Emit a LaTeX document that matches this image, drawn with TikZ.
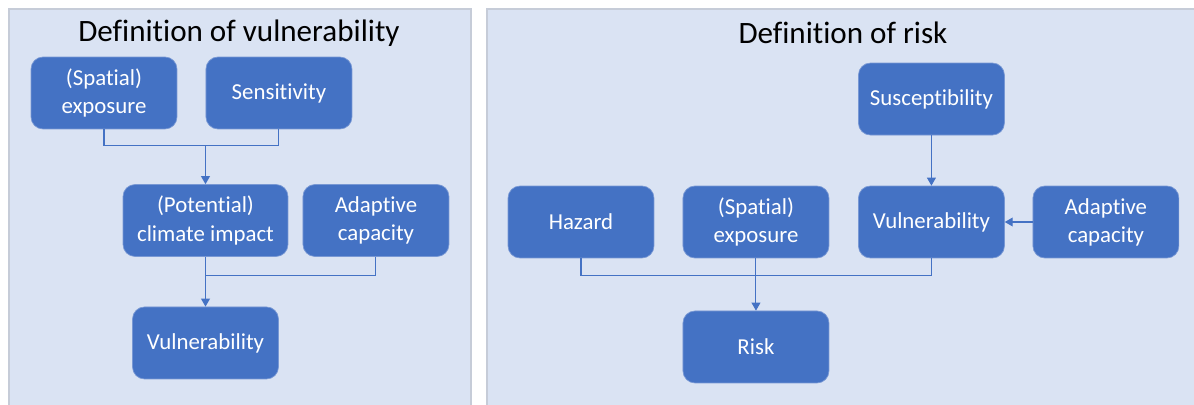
\documentclass[tikz,border=0pt]{standalone}
\usepackage{fontspec}
\setmainfont{Carlito}[Ligatures=NoCommon]
\usepackage{tikz}
\usetikzlibrary{arrows.meta,positioning,calc}
\definecolor{boxblue}{RGB}{68,114,196}
\definecolor{boxline}{RGB}{120,152,212}
\definecolor{panelbg}{RGB}{218,227,243}
\definecolor{panelline}{RGB}{198,204,216}
\newcommand{\boxfont}{\fontsize{13}{16}\selectfont}
\newcommand{\titlefont}{\fontsize{17.7}{21}\selectfont}
\tikzstyle{panel} = [rectangle, draw=panelline, fill=panelbg, line width=0.6pt]
\tikzstyle{box} = [rectangle, draw=boxline, fill=boxblue, text=white, align=center, minimum width=2.92cm, minimum height=1.44cm, rounded corners=0.24cm, inner sep=0pt, font=\boxfont]
\tikzstyle{title} = [font=\titlefont, text=black]
\tikzstyle{wire} = [draw=boxblue, line width=0.6pt]
\tikzstyle{wirearrow} = [wire, -{Triangle[length=4.5pt,width=5pt]}]

\begin{document}
\begin{tikzpicture}[x=0.02cm, y=-0.02cm]
        \useasboundingbox (0,0) rectangle (1194,405);
        \draw[panel] (9,9) rectangle (471,410);
        \draw[panel] (487,9) rectangle (1200,410);

        % vulnerability
        \node[title] (t1) at (239,33) {Definition of vulnerability};
        \node[box] (e1) at (104,93) {(Spatial)\\exposure};
        \node[box, right of=e1, node distance=3.5cm] (s1) {Sensitivity};
        \node[box, minimum width=3.3cm] (c1) at (205.5,220.5) {(Potential)\\climate impact};
        \node[box, right of=c1, node distance=3.41cm] (a1) {Adaptive\\capacity};
        \node[box, below of=c1, node distance=2.45cm] (v1) {Vulnerability};

        \coordinate (j1) at ($(c1.north)+(0,-39)$);
        \coordinate (j2) at ($(c1.south)+(0,19)$);
        \draw[wire] (e1.south) |- (j1) -| (s1.south);
        \draw[wirearrow] (j1) -- (c1);
        \draw[wire] (c1.south) -- (j2);
        \draw[wire] (a1.south) |- (j2);
        \draw[wirearrow] (j2) -- (v1);

        % risk
        \node[title] (t2) at (843,33) {Definition of risk};
        \node[box] (h2) at (581,222) {Hazard};
        \node[box, right of=h2, node distance=3.5cm] (x2) {(Spatial)\\exposure};
        \node[box, right of=x2, node distance=3.51cm] (v2) {Vulnerability};
        \node[box, right of=v2, node distance=3.49cm] (a2) {Adaptive\\capacity};
        \node[box, above of=v2, node distance=2.46cm] (s2) {Susceptibility};
        \node[box, below of=x2, node distance=2.5cm] (r2) {Risk};

        \coordinate (j3) at ($(x2.south)+(0,17)$);
        \draw[wirearrow] (s2) -- (v2);
        \draw[wirearrow] (a2) -- (v2);
        \draw[wire] (h2.south) |- (j3) -| (v2.south);
        \draw[wirearrow] (x2) -- (r2);
\end{tikzpicture}
\end{document}
